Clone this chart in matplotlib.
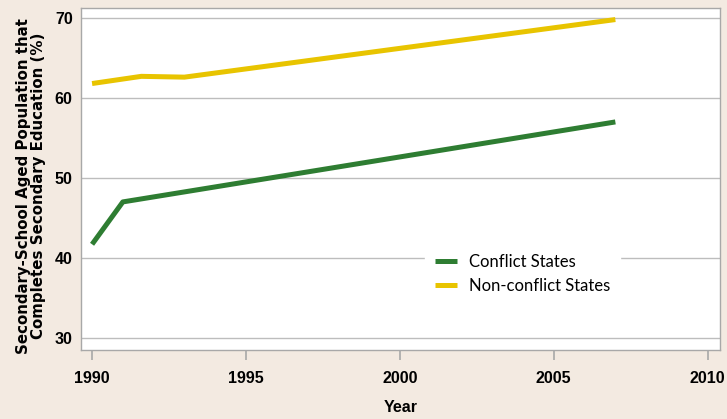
import matplotlib.pyplot as plt

# data
conflict_years = [1990, 1991, 2007]
conflict_vals = [41.7, 47.0, 57.0]
nonconflict_years = [1990, 1991.6, 1993, 2007]
nonconflict_vals = [61.8, 62.7, 62.6, 69.8]

xticks = [1990, 1995, 2000, 2005, 2010]
yticks = [30, 40, 50, 60, 70]

bg = "#F3EAE1"
green = "#2E7D32"
yellow = "#E8C400"

fig = plt.figure(figsize=(7.27, 4.19), dpi=100, facecolor=bg)
ax = fig.add_axes([0.1114, 0.165, 0.879, 0.816])
ax.set_facecolor("white")

ax.plot(conflict_years, conflict_vals, color=green, lw=3.6, solid_capstyle="butt", label="Conflict States")
ax.plot(nonconflict_years, nonconflict_vals, color=yellow, lw=3.6, solid_capstyle="butt", label="Non-conflict States")

ax.set_xlim(1989.64, 2010.4)
ax.set_ylim(28.5, 71.25)
ax.set_xticks(xticks)
ax.set_yticks(yticks)
ax.grid(axis="y", color="#BDBDBD", lw=1)
ax.set_axisbelow(True)

for s in ax.spines.values():
    s.set_color("#A8A8A8")
    s.set_linewidth(1)

ax.tick_params(axis="x", length=7, color="#A8A8A8", width=1.2, pad=8)
ax.tick_params(axis="y", length=0, pad=6)
for lab in ax.get_xticklabels() + ax.get_yticklabels():
    lab.set_fontfamily("Liberation Sans")
    lab.set_fontweight("bold")
    lab.set_fontsize(11.5)

ax.set_xlabel("Year", fontfamily="Liberation Sans", fontweight="bold", fontsize=11.5, labelpad=10)
ax.set_ylabel("Secondary-School Aged Population that\nCompletes Secondary Education (%)",
              fontfamily="DejaVu Sans", fontweight="bold", fontsize=10.8,
              linespacing=1.0)
ax.yaxis.set_label_coords(-0.055, 0.48)

leg = ax.legend(loc="upper left", bbox_to_anchor=(0.526, 0.335), frameon=True,
                prop={"family": "Lato", "size": 12}, handlelength=1.3,
                handletextpad=0.7, labelspacing=0.5, borderpad=0.6)
leg.get_frame().set_facecolor("white")
leg.get_frame().set_edgecolor("white")
leg.get_frame().set_alpha(1)
leg.get_frame().set_boxstyle("square", pad=0)

fig.savefig("out.png", dpi=100, facecolor=bg)
